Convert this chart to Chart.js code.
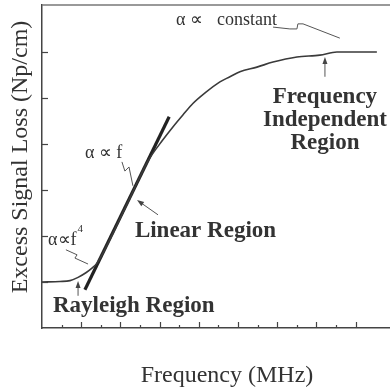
<!DOCTYPE html>
<html>
<head>
<meta charset="utf-8">
<script src="https://cdn.jsdelivr.net/npm/chart.js@4/dist/chart.umd.min.js"></script>
<style>
  html, body { margin: 0; padding: 0; background: #fff; }
  #wrap { width: 390px; height: 389px; }
</style>
</head>
<body>
<div id="wrap"><canvas id="graph_plot"></canvas></div>
<script>
// measured curve (arbitrary units: x ticks every 1, y ticks every 1)
const curveFreq = [0.00, 0.92, 1.43, 1.84, 2.24, 2.55, 2.81, 3.06, 3.47, 4.49, 5.41, 6.17, 6.68, 7.19, 7.70, 8.32, 9.08, 9.59, 10.10, 10.97, 11.79, 13.01, 14.18, 15.05, 16.22, 17.09];
const curveLoss = [1.00, 1.01, 1.03, 1.10, 1.20, 1.30, 1.41, 1.59, 1.93, 2.83, 3.63, 4.09, 4.37, 4.63, 4.88, 5.11, 5.35, 5.46, 5.57, 5.67, 5.78, 5.89, 5.93, 6.00, 6.00, 6.00];

// straight line fitted to the linear region
const linearFreq = [2.19, 6.49];
const linearLoss = [0.83, 4.59];

const xMax = 17.76;
const yMax = 7.02;

const serif = '"Liberation Serif", "Times New Roman", serif';
const ink = "#333";

const toPoints = (xs, ys) => xs.map((x, i) => ({ x: x, y: ys[i] }));

// annotation layer, anchored in data units
const labels = [
  { text: "\u03b1 \u221d", x: 6.84, y: 6.59, font: "18px " + serif },
  { text: "constant", x: 8.93, y: 6.59, font: "18px " + serif },
  { text: "\u03b1 \u221d f", x: 2.19, y: 3.70, font: "18px " + serif },
  { text: "\u03b1\u221df", x: 0.31, y: 1.80, font: "18px " + serif, sup: "4" },
  { text: "Rayleigh Region", x: 0.56, y: 0.35, font: "bold 23px " + serif },
  { text: "Linear Region", x: 4.74, y: 1.98, font: "bold 23px " + serif },
  { text: "Frequency", x: 14.44, y: 4.89, font: "bold 23px " + serif, align: "center" },
  { text: "Independent", x: 14.44, y: 4.39, font: "bold 23px " + serif, align: "center" },
  { text: "Region", x: 14.44, y: 3.89, font: "bold 23px " + serif, align: "center" }
];

const arrows = [
  [[1.84, 0.70], [1.84, 1.02]],
  [[5.92, 2.46], [4.85, 2.78]],
  [[14.44, 5.46], [14.44, 5.89]]
];

const leaders = [
  [[1.22, 1.70], [1.79, 1.59], [1.68, 1.52], [2.35, 1.39]],
  [[4.08, 3.61], [4.23, 3.41], [4.44, 3.50], [4.64, 3.09]],
  [[11.79, 6.54], [12.65, 6.50], [13.01, 6.50], [13.06, 6.61], [13.32, 6.61], [15.20, 6.30]]
];

const decorations = {
  id: "decorations",
  afterDraw(chart) {
    const { ctx, chartArea, scales } = chart;
    const sx = scales.x, sy = scales.y;
    const px = v => sx.getPixelForValue(v);
    const py = v => sy.getPixelForValue(v);

    ctx.save();

    // top frame line
    ctx.strokeStyle = "#777";
    ctx.lineWidth = 1.5;
    ctx.beginPath();
    ctx.moveTo(chartArea.left, chartArea.top);
    ctx.lineTo(chartArea.right, chartArea.top);
    ctx.stroke();

    // inward tick marks
    ctx.strokeStyle = "#444";
    ctx.lineWidth = 1.2;
    sx.ticks.forEach(t => {
      if (t.value <= 0 || t.value >= xMax) return;
      const len = t.value % 2 === 0 ? 6 : 3;
      const x = Math.round(px(t.value)) + 0.5;
      ctx.beginPath();
      ctx.moveTo(x, chartArea.bottom);
      ctx.lineTo(x, chartArea.bottom - len);
      ctx.stroke();
    });
    sy.ticks.forEach(t => {
      if (t.value <= 0 || t.value >= 7) return;
      const y = Math.round(py(t.value)) + 0.5;
      ctx.beginPath();
      ctx.moveTo(chartArea.left, y);
      ctx.lineTo(chartArea.left + 6, y);
      ctx.stroke();
    });

    // leader squiggles
    ctx.strokeStyle = "#555";
    ctx.lineWidth = 1;
    leaders.forEach(path => {
      ctx.beginPath();
      path.forEach((p, i) => {
        if (i === 0) ctx.moveTo(px(p[0]), py(p[1]));
        else ctx.lineTo(px(p[0]), py(p[1]));
      });
      ctx.stroke();
    });

    // arrows
    ctx.fillStyle = "#444";
    arrows.forEach(([a, b]) => {
      const x1 = px(a[0]), y1 = py(a[1]), x2 = px(b[0]), y2 = py(b[1]);
      const ang = Math.atan2(y2 - y1, x2 - x1);
      ctx.beginPath();
      ctx.moveTo(x1, y1);
      ctx.lineTo(x2 - 4 * Math.cos(ang), y2 - 4 * Math.sin(ang));
      ctx.stroke();
      ctx.beginPath();
      ctx.moveTo(x2, y2);
      ctx.lineTo(x2 - 7 * Math.cos(ang) + 2.5 * Math.sin(ang), y2 - 7 * Math.sin(ang) - 2.5 * Math.cos(ang));
      ctx.lineTo(x2 - 7 * Math.cos(ang) - 2.5 * Math.sin(ang), y2 - 7 * Math.sin(ang) + 2.5 * Math.cos(ang));
      ctx.closePath();
      ctx.fill();
    });

    // text labels
    ctx.fillStyle = ink;
    ctx.textBaseline = "alphabetic";
    labels.forEach(l => {
      ctx.font = l.font;
      ctx.textAlign = l.align || "left";
      const x = px(l.x), y = py(l.y);
      ctx.fillText(l.text, x, y);
      if (l.sup) {
        const w = ctx.measureText(l.text).width;
        ctx.font = "11px " + serif;
        ctx.fillText(l.sup, x + w + 1, y - 13);
      }
    });

    // axis titles
    ctx.font = "24px " + serif;
    ctx.textAlign = "center";
    ctx.fillText("Frequency (MHz)", 227, 382);
    ctx.save();
    ctx.translate(21, 157);
    ctx.rotate(-Math.PI / 2);
    ctx.textBaseline = "middle";
    ctx.fillText("Excess Signal Loss (Np/cm)", 0, 0);
    ctx.restore();

    ctx.restore();
  }
};

new Chart(document.getElementById("graph_plot"), {
  type: "line",
  data: {
    datasets: [
      {
        label: "Excess signal loss",
        data: toPoints(curveFreq, curveLoss),
        borderColor: "#3a3a3a",
        borderWidth: 1.6,
        pointRadius: 0,
        cubicInterpolationMode: "monotone"
      },
      {
        label: "Linear fit",
        data: toPoints(linearFreq, linearLoss),
        borderColor: "#222",
        borderWidth: 3.2,
        pointRadius: 0
      }
    ]
  },
  options: {
    responsive: true,
    maintainAspectRatio: false,
    animation: false,
    layout: { padding: { top: 5, right: 0, left: 0, bottom: 0 } },
    plugins: {
      legend: { display: false },
      tooltip: { enabled: false }
    },
    scales: {
      x: {
        type: "linear",
        position: "bottom",
        min: 0,
        max: xMax,
        ticks: { display: false, stepSize: 1 },
        grid: { display: false, drawTicks: false },
        border: { display: true, color: "#444", width: 1.5 },
        afterFit(s) { s.height = 61; }
      },
      y: {
        min: 0,
        max: yMax,
        ticks: { display: false, stepSize: 1 },
        grid: { display: false, drawTicks: false },
        border: { display: true, color: "#444", width: 1.5 },
        afterFit(s) { s.width = 42; }
      }
    }
  },
  plugins: [decorations]
});
</script>
</body>
</html>
